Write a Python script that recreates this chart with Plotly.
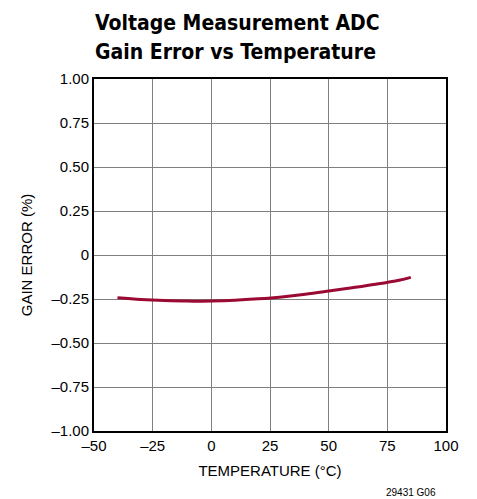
import plotly.graph_objects as go

temps = [-40, -30, -20, -10, 0, 10, 20, 30, 40, 50, 60, 70, 80, 85]
gain_error = [-0.243, -0.253, -0.259, -0.262, -0.261, -0.257, -0.249, -0.238, -0.223, -0.205, -0.186, -0.166, -0.143, -0.127]

x_ticks = [-50, -25, 0, 25, 50, 75, 100]
x_labels = ["\u201350", "\u201325", "0", "25", "50", "75", "100"]
y_ticks = [-1.0, -0.75, -0.5, -0.25, 0, 0.25, 0.5, 0.75, 1.0]
y_labels = ["\u20131.00", "\u20130.75", "\u20130.50", "\u20130.25", "0", "0.25", "0.50", "0.75", "1.00"]
title_lines = ["Voltage Measurement ADC", "Gain Error vs Temperature"]

FONT = "Liberation Sans, Arial, sans-serif"
TITLE_FONT = "DejaVu Sans Condensed, Liberation Sans, sans-serif"

fig = go.Figure()
fig.add_trace(go.Scatter(x=temps, y=gain_error, mode="lines",
                         line=dict(color="#9b0a33", width=3, shape="spline"),
                         showlegend=False))

fig.update_layout(
    width=469, height=491,
    margin=dict(l=86, r=31, t=71, b=68),
    paper_bgcolor="white", plot_bgcolor="white",
    font=dict(family=FONT, size=15, color="black"),
)
fig.update_xaxes(range=[-50, 100], tickvals=x_ticks, ticktext=x_labels,
                 showgrid=True, gridcolor="#808080", gridwidth=1,
                 showline=True, linecolor="black", linewidth=2, mirror=True,
                 ticks="", zeroline=False,
                 title=dict(text="TEMPERATURE (\u00b0C)", standoff=12, font=dict(size=15)))
fig.update_yaxes(range=[-1, 1], tickvals=y_ticks, ticktext=y_labels,
                 showgrid=True, gridcolor="#808080", gridwidth=1,
                 showline=True, linecolor="black", linewidth=2, mirror=True,
                 ticks="", zeroline=False,
                 title=dict(text="GAIN ERROR (%)", standoff=15, font=dict(size=15)))
for line_text, ypos in zip(title_lines, [1.118, 1.036]):
    fig.add_annotation(text="<b>" + line_text + "</b>", xref="paper", yref="paper",
                       x=-0.004, y=ypos, xanchor="left", yanchor="bottom",
                       showarrow=False,
                       font=dict(size=21, family=TITLE_FONT, color="black"))
fig.add_annotation(text="29431 G06", xref="paper", yref="paper",
                   x=0.977, y=-0.176, xanchor="right", yanchor="middle",
                   showarrow=False, font=dict(size=10, family=FONT))

fig.write_html("out.html")
